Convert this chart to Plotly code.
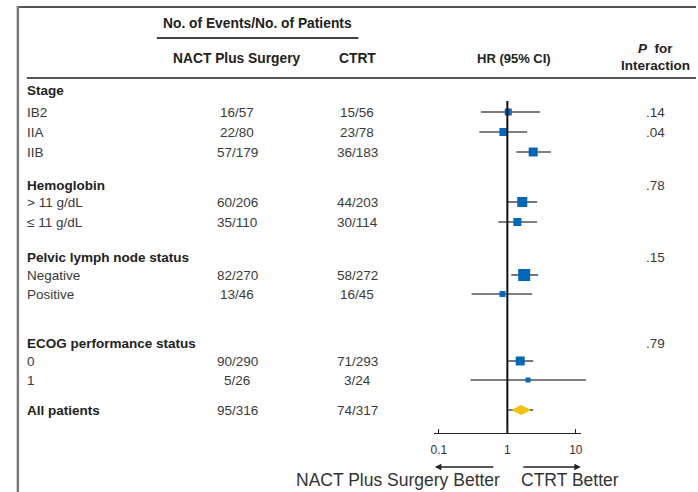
import math
import plotly.graph_objects as go

# ---- table content -------------------------------------------------------
row_labels = ["Stage", "IB2", "IIA", "IIB",
              "Hemoglobin", "> 11 g/dL", "≤ 11 g/dL",
              "Pelvic lymph node status", "Negative", "Positive",
              "ECOG performance status", "0", "1",
              "All patients"]
row_is_header = [True, False, False, False,
                 True, False, False,
                 True, False, False,
                 True, False, False,
                 True]
nact_events = ["", "16/57", "22/80", "57/179",
               "", "60/206", "35/110",
               "", "82/270", "13/46",
               "", "90/290", "5/26",
               "95/316"]
ctrt_events = ["", "15/56", "23/78", "36/183",
               "", "44/203", "30/114",
               "", "58/272", "16/45",
               "", "71/293", "3/24",
               "74/317"]
p_interaction = ["", ".14", ".04", "",
                 ".78", "", "",
                 ".15", "", "",
                 ".79", "", "",
                 ""]

# hazard ratios with 95% CI (None = no estimate on that row)
hr = [None, 1.03, 0.875, 2.38, None, 1.65, 1.40, None, 1.76, 0.85, None, 1.54, 2.0, 1.59]
ci_lo = [None, 0.41, 0.39, 1.35, None, 0.97, 0.74, None, 1.14, 0.30, None, 1.03, 0.29, 1.03]
ci_hi = [None, 3.0, 1.95, 4.33, None, 2.72, 2.72, None, 2.81, 2.30, None, 2.38, 14.0, 2.38]

axis_ticks = [0.1, 1, 10]
axis_ticktext = ["0.1", "1", "10"]

# ---- layout (pixel geometry of the 698 x 492 canvas) ---------------------
W, H = 698, 492
ROW_Y = [90, 112, 132, 152, 185, 202, 222, 257, 275, 294, 343, 361, 380, 410]
MARKER_PX = [0, 7, 8, 9, 0, 10, 8, 0, 12, 6, 0, 9, 5, 0]
X_ONE = 508          # pixel column of HR = 1
PX_PER_DECADE = 69   # log scale width
AXIS_Y = 433
AX_LEFT, AX_RIGHT = 434, 582

BLUE = "#0068b8"
GOLD = "#f4c20d"
CI_GREY = "#555555"
TXT = "#3a3a3a"
HEAD = "#222222"
FONT = "Liberation Sans, Arial, sans-serif"
NARROW = "Liberation Sans Narrow, Arial Narrow, Liberation Sans, sans-serif"


def px2log(px):
    return (px - X_ONE) / PX_PER_DECADE


def xp(px):
    return px / W


fig = go.Figure()

# CI segments
ci_x, ci_y = [], []
for y, lo, hi in zip(ROW_Y, ci_lo, ci_hi):
    if lo is None:
        continue
    ci_x += [lo, hi, None]
    ci_y += [y, y, None]
fig.add_trace(go.Scatter(x=ci_x, y=ci_y, mode="lines",
                         line=dict(color=CI_GREY, width=1.6),
                         hoverinfo="skip", showlegend=False))

# reference line at HR = 1 (drawn on the visible log axis)
fig.add_trace(go.Scatter(x=[1, 1], y=[101, AXIS_Y], mode="lines",
                         line=dict(color="#111111", width=2),
                         xaxis="x2", yaxis="y",
                         hoverinfo="skip", showlegend=False))

# subgroup squares
sq_x, sq_y, sq_s = [], [], []
for lab, y, h, s in zip(row_labels, ROW_Y, hr, MARKER_PX):
    if h is None or lab == "All patients":
        continue
    sq_x.append(h)
    sq_y.append(y)
    sq_s.append(s)
fig.add_trace(go.Scatter(x=sq_x, y=sq_y, mode="markers",
                         marker=dict(symbol="square", size=sq_s, color=BLUE,
                                     opacity=1, line=dict(width=0)),
                         hoverinfo="skip", showlegend=False))

# overall estimate diamond
i_all = row_labels.index("All patients")
fig.add_trace(go.Scatter(x=[hr[i_all]], y=[ROW_Y[i_all]], mode="markers",
                         marker=dict(symbol="diamond-wide", size=14, color=GOLD,
                                     opacity=1, line=dict(width=0)),
                         hoverinfo="skip", showlegend=False))

ann = []


def text(px, y, s, size=13.5, bold=False, color=TXT, anchor="center", font=FONT):
    if bold:
        s = "<b>" + s + "</b>"
    ann.append(dict(x=xp(px), xref="paper", y=y, yref="y", text=s,
                    showarrow=False, xanchor=anchor, yanchor="middle",
                    font=dict(family=font, size=size, color=color)))


# column headers
text(256, 23, "No. of Events/No. of Patients", size=13.8, bold=True, color=HEAD)
text(236, 58, "NACT Plus Surgery", size=13.8, bold=True, color=HEAD)
text(357, 58, "CTRT", size=13.8, bold=True, color=HEAD)
text(515, 58, "HR (95% CI)", size=13, bold=True, color=HEAD)
text(657, 48, "<i>P</i>  for", size=13.5, bold=True, color=HEAD)
text(657, 65, "Interaction", size=13.5, bold=True, color=HEAD)

# table rows
for lab, hdr, a, b, p, y in zip(row_labels, row_is_header, nact_events,
                                ctrt_events, p_interaction, ROW_Y):
    text(22, y, lab, bold=hdr, color=HEAD if hdr else TXT, anchor="left")
    if a:
        text(236, y, a)
    if b:
        text(357, y, b)
    if p:
        text(657, y, p)

# direction arrows and captions
ann.append(dict(x=xp(AX_LEFT + 1), y=467, xref="paper", yref="y", ax=60, ay=0,
                text="", showarrow=True,
                arrowhead=2, arrowsize=1, arrowwidth=1.3, arrowcolor="#222"))
ann.append(dict(x=xp(AX_RIGHT), y=467, xref="paper", yref="y", ax=-59, ay=0,
                text="", showarrow=True,
                arrowhead=2, arrowsize=1, arrowwidth=1.3, arrowcolor="#222"))
text(398, 480, "NACT Plus Surgery Better", size=17.5, color="#333", font=NARROW)
text(571, 480, "CTRT Better", size=17.5, color="#333", font=NARROW)

# frame and rules
shapes = [
    dict(type="line", xref="paper", yref="y", x0=xp(15), x1=1, y0=7, y1=7,
         line=dict(color="#555", width=2)),
    dict(type="line", xref="paper", yref="y", x0=xp(15), x1=xp(15), y0=6, y1=H,
         line=dict(color="#7a7a7a", width=2.5)),
    dict(type="line", xref="paper", yref="y", x0=xp(155), x1=xp(358), y0=38, y1=38,
         line=dict(color="#444", width=2)),
    dict(type="line", xref="paper", yref="y", x0=xp(24), x1=1, y0=78, y1=78,
         line=dict(color="#555", width=2)),
]

fig.update_layout(
    width=W, height=H,
    margin=dict(l=0, r=0, t=0, b=0),
    paper_bgcolor="white", plot_bgcolor="rgba(0,0,0,0)",
    showlegend=False,
    xaxis=dict(type="log", domain=[0, 1],
               range=[px2log(0), px2log(W)],
               visible=False, fixedrange=True),
    xaxis2=dict(type="log", domain=[xp(AX_LEFT), xp(AX_RIGHT)],
                range=[px2log(AX_LEFT), px2log(AX_RIGHT)],
                anchor="free", position=1 - AXIS_Y / H,
                showline=True, linecolor="#222", linewidth=1.3,
                ticks="inside", ticklen=4, tickwidth=1.2, tickcolor="#222",
                tickvals=axis_ticks, ticktext=axis_ticktext,
                ticklabelstandoff=5,
                tickfont=dict(family=FONT, size=12, color="#333"),
                showgrid=False, zeroline=False, fixedrange=True),
    yaxis=dict(range=[H, 0], domain=[0, 1], visible=False, fixedrange=True),
    annotations=ann,
    shapes=shapes,
)

fig.write_html("out.html")
